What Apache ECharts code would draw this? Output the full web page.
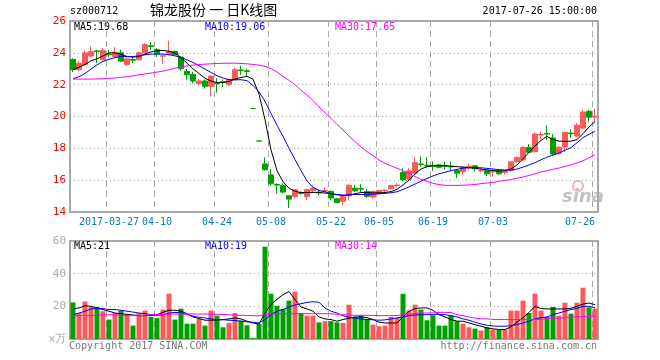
<!DOCTYPE html>
<html><head><meta charset="utf-8">
<script src="https://cdn.jsdelivr.net/npm/echarts@6/dist/echarts.min.js"></script>
<style>html,body{margin:0;padding:0;background:#fff}#c{width:660px;height:360px}</style>
</head><body><div id="c"></div>
<script>
const dates = ['2017-03-17','2017-03-20','2017-03-21','2017-03-22','2017-03-23','2017-03-24','2017-03-27','2017-03-28','2017-03-29','2017-03-30','2017-03-31',
'2017-04-05','2017-04-06','2017-04-07','2017-04-10','2017-04-11','2017-04-12','2017-04-13','2017-04-14','2017-04-17','2017-04-18','2017-04-19','2017-04-20','2017-04-21','2017-04-24','2017-04-25','2017-04-26','2017-04-27','2017-04-28',
'2017-05-02','2017-05-03','2017-05-04','2017-05-05','2017-05-08','2017-05-09','2017-05-10','2017-05-11','2017-05-12','2017-05-15','2017-05-16','2017-05-17','2017-05-18','2017-05-19','2017-05-22','2017-05-23','2017-05-24','2017-05-25','2017-05-26','2017-05-31',
'2017-06-01','2017-06-02','2017-06-05','2017-06-06','2017-06-07','2017-06-08','2017-06-09','2017-06-13','2017-06-14','2017-06-15','2017-06-16','2017-06-19','2017-06-20','2017-06-21','2017-06-22','2017-06-23','2017-06-26','2017-06-27','2017-06-28','2017-06-29','2017-06-30',
'2017-07-03','2017-07-04','2017-07-05','2017-07-06','2017-07-07','2017-07-10','2017-07-11','2017-07-12','2017-07-13','2017-07-14','2017-07-17','2017-07-18','2017-07-19','2017-07-20','2017-07-21','2017-07-24','2017-07-25','2017-07-26'];

const opens = [23.58,22.94,23.27,23.8,24.12,23.56,23.92,23.77,24.0,23.27,23.58,23.56,24.0,24.44,24.2,23.79,23.9,24.08,23.73,22.83,22.65,22.06,22.23,21.9,22.1,22.19,22.0,22.31,22.92,22.87,
20.5,18.46,17.02,16.33,15.73,15.67,15.02,14.98,15.21,14.98,15.33,15.25,15.31,15.29,14.83,14.67,15.02,15.5,15.48,15.29,14.94,15.15,15.33,15.46,15.65,16.48,16.06,16.44,17.02,16.94,
16.92,16.96,16.92,16.87,16.6,16.54,16.83,16.9,16.58,16.6,16.52,16.58,16.48,16.6,17.17,17.27,18.06,17.79,18.83,18.94,18.65,17.69,18.08,18.96,18.77,19.27,20.33,19.96];
const closes = [22.94,23.35,24.0,24.08,24.08,24.15,23.88,24.04,23.48,23.62,23.54,24.0,24.52,24.4,23.94,23.81,24.08,23.88,23.0,22.62,22.23,22.23,21.9,22.54,22.06,22.15,22.31,22.94,22.88,22.83,
20.5,18.46,16.65,15.77,15.69,15.25,14.81,15.4,15.17,15.4,15.5,15.21,15.35,14.88,14.6,14.98,15.67,15.33,15.44,14.98,15.29,15.35,15.37,15.67,15.69,16.02,16.58,17.1,16.98,16.9,
16.88,16.81,16.88,16.83,16.44,16.81,16.87,16.71,16.62,16.4,16.56,16.4,16.54,17.15,17.42,18.06,17.75,18.9,18.87,18.9,17.65,18.06,19.0,18.92,19.45,20.29,19.96,20.02];
const lows = [22.8,22.85,23.2,23.73,23.35,23.52,23.7,23.73,23.42,23.17,23.35,23.52,23.94,24.19,23.73,23.27,23.85,23.85,22.85,22.31,22.06,21.96,21.75,21.27,21.5,21.85,21.92,22.27,22.62,22.52,
20.5,18.46,16.6,15.65,15.15,15.15,14.25,14.85,15.08,14.73,15.23,15.04,15.23,14.73,14.56,14.42,14.73,15.25,15.25,14.88,14.83,15.1,15.19,15.4,15.56,15.92,15.98,16.44,16.85,16.79,
16.58,16.75,16.69,16.6,16.13,16.35,16.69,16.54,16.48,16.25,16.23,16.33,16.35,16.5,17.1,17.23,17.69,17.75,18.56,18.52,17.5,17.6,17.75,18.67,18.69,19.19,19.65,19.65];
const highs = [23.65,23.48,24.15,24.4,24.19,24.3,24.19,24.35,24.19,23.73,23.77,24.08,24.6,24.67,24.3,23.83,24.77,24.15,23.77,23.0,22.79,22.35,22.33,22.58,22.4,22.33,22.38,23.06,23.2,23.0,
20.5,18.46,17.44,16.69,15.81,15.81,15.02,15.44,15.29,15.4,15.67,15.4,15.54,15.35,14.88,15.08,15.75,15.71,15.75,15.44,15.35,15.4,15.44,15.71,15.81,16.75,16.75,17.44,17.48,17.44,
17.17,17.02,17.17,17.17,16.69,16.87,17.02,16.9,16.75,16.6,16.75,16.65,16.6,17.15,17.5,18.15,18.27,19.0,19.04,19.46,18.9,18.15,19.04,19.19,19.6,20.42,20.42,20.48];

const volumes = [22.4,15.9,23.0,19.6,19.6,17.0,11.9,15.9,17.4,14.9,8.2,15.9,17.4,13.5,12.9,18.0,27.7,11.9,18.6,9.4,9.4,12.3,8.2,17.4,14.3,7.2,9.8,15.9,11.3,8.4,
0.7,9.2,56.5,27.7,20.4,18.4,23.5,29.0,15.9,14.3,14.3,10.2,10.9,10.9,10.2,9.8,21.0,13.5,14.5,12.3,8.8,7.8,8.2,13.5,12.9,27.7,17.4,21.0,18.0,11.5,
14.5,8.2,8.2,14.5,10.9,9.4,7.2,6.4,5.2,7.2,5.8,5.8,5.8,17.4,17.4,23.5,15.9,27.7,17.4,13.5,19.6,14.3,22.2,15.5,22.2,31.4,19.4,18.6];

const ma5 = [22.94,23.1,23.27,23.5,23.62,23.8,24.0,24.0,23.9,23.77,23.73,23.77,23.92,24.06,24.13,24.15,24.1,23.98,23.7,23.35,23.0,22.7,22.4,22.23,22.13,22.13,22.2,22.35,22.45,22.52,
22.35,21.4,19.8,17.9,16.6,15.9,15.5,15.3,15.22,15.22,15.22,15.22,15.19,15.15,15.08,15.04,15.06,15.15,15.22,15.22,15.2,15.2,15.22,15.28,15.42,15.7,16.0,16.4,16.7,16.85,
16.9,16.92,16.9,16.88,16.85,16.82,16.78,16.75,16.7,16.65,16.6,16.58,16.6,16.7,16.95,17.35,17.75,18.15,18.5,18.75,18.55,18.45,18.44,18.45,18.55,18.92,19.34,19.68];
const ma10 = [22.38,22.5,22.7,22.98,23.25,23.46,23.6,23.7,23.77,23.77,23.77,23.81,23.88,23.92,23.92,23.92,23.88,23.81,23.71,23.56,23.4,23.19,22.98,22.77,22.56,22.42,22.31,22.31,22.31,22.25,
21.95,21.55,20.95,20.2,19.45,18.75,18.0,17.3,16.6,15.95,15.55,15.35,15.27,15.15,15.1,15.06,15.08,15.1,15.1,15.1,15.12,15.15,15.17,15.21,15.27,15.42,15.58,15.75,15.94,16.1,
16.27,16.4,16.5,16.6,16.68,16.75,16.78,16.79,16.78,16.74,16.7,16.66,16.64,16.64,16.7,16.82,16.95,17.1,17.28,17.45,17.57,17.7,17.88,18.05,18.35,18.67,18.88,19.06];
const ma30 = [22.35,22.35,22.35,22.35,22.36,22.37,22.4,22.42,22.46,22.5,22.56,22.62,22.67,22.73,22.79,22.85,22.94,23.04,23.12,23.18,23.23,23.26,23.29,23.31,23.33,23.34,23.35,23.35,23.33,23.31,
23.27,23.23,23.15,23.0,22.8,22.52,22.27,22.0,21.65,21.35,21.0,20.6,20.23,19.88,19.5,19.15,18.77,18.42,18.1,17.79,17.54,17.27,17.06,16.9,16.75,16.6,16.44,16.23,16.06,15.92,
15.8,15.72,15.68,15.67,15.67,15.68,15.7,15.73,15.78,15.82,15.86,15.93,15.98,16.04,16.12,16.2,16.3,16.4,16.52,16.6,16.68,16.76,16.86,16.96,17.08,17.22,17.4,17.6];

const volMa5 = [18.4,19.0,20.4,20.0,19.0,18.0,17.0,15.9,15.5,15.1,14.7,14.3,14.3,14.3,14.9,16.3,17.6,17.6,17.0,15.5,13.5,12.5,11.5,11.5,11.5,11.9,12.3,12.9,12.3,10.9,
9.8,9.2,15.9,21.0,24.4,27.1,29.1,24.1,19.6,18.4,17.0,13.5,12.3,11.9,10.9,11.9,12.7,13.5,13.5,13.1,11.9,10.3,9.8,9.8,9.8,13.5,17.0,18.6,19.0,19.0,
17.6,14.9,13.5,11.9,10.9,10.9,9.8,8.8,7.8,6.8,6.2,5.8,5.8,7.4,10.3,12.9,16.3,20.0,18.6,18.4,18.4,18.4,18.4,18.8,20.0,21.4,22.0,21.0];
const volMa10 = [14.9,15.9,17.0,18.4,18.6,18.6,18.0,18.0,17.6,17.0,16.5,15.9,15.5,14.9,14.5,14.7,15.9,16.3,16.0,15.2,13.9,13.3,12.9,12.3,11.9,11.8,11.5,11.3,10.9,10.5,
10.3,9.8,11.9,14.9,17.0,18.0,19.6,20.8,21.6,22.4,22.8,22.5,19.0,17.0,15.9,14.3,13.3,12.7,12.3,11.9,11.8,11.5,11.7,12.3,12.9,13.5,14.3,14.7,14.8,14.9,
15.1,15.1,14.9,14.3,13.5,12.3,11.5,10.3,9.2,8.4,8.0,7.8,7.8,8.2,8.8,9.8,10.9,12.3,13.1,13.5,14.9,15.9,17.0,18.0,18.8,20.0,20.0,19.0];
const volMa30 = [14.3,14.3,14.3,14.3,14.6,14.8,14.8,14.8,14.6,14.3,14.3,14.3,14.5,14.9,14.9,15.0,15.2,15.3,15.3,15.3,15.3,15.3,15.3,15.2,15.1,15.0,14.8,14.6,14.5,14.4,
14.3,14.2,15.0,15.3,15.4,15.5,15.5,15.5,15.5,15.5,15.5,15.5,15.5,15.4,15.2,14.9,14.6,14.5,14.5,14.5,14.4,14.3,14.3,14.3,14.4,14.9,15.2,15.5,15.9,15.9,
16.0,16.3,16.3,16.2,14.9,14.3,13.5,12.8,12.3,12.3,12.0,11.9,11.9,11.9,11.9,11.9,11.9,11.9,12.0,12.7,12.7,12.8,12.9,13.5,13.6,13.7,13.8,13.9];

const labelDates = ['2017-03-27','2017-04-10','2017-04-24','2017-05-08','2017-05-22','2017-06-05','2017-06-19','2017-07-03','2017-07-26'];
const priceLegend = ['MA5:19.68','MA10:19.06','MA30:17.65'];
const volLegend = ['MA5:21','MA10:19','MA30:14'];
const stockCode = 'sz000712';
const chartTitle = '锦龙股份 一 日K线图';
const stampText = '2017-07-26 15:00:00';

const UP = '#fa5a5a', DOWN = '#00a000';
const MONO = '"DejaVu Sans Mono", monospace';
const labelSet = new Set(labelDates);
const showAt = (i, v) => labelSet.has(v);

const candles = dates.map((d, i) => [opens[i], closes[i], lows[i], highs[i]]);
const volData = volumes.map((v, i) => {
  let up = closes[i] > opens[i] ? true : closes[i] < opens[i] ? false : (i > 0 ? closes[i] >= closes[i-1] : true);
  return { value: v, itemStyle: { color: up ? UP : DOWN } };
});

const chart = echarts.init(document.getElementById('c'), null, { renderer: 'canvas' });
const gridStyle = { show: true, borderColor: '#a8a8a8', borderWidth: 2, backgroundColor: 'transparent' };
const xCommon = {
  type: 'category', data: dates, boundaryGap: true,
  axisLine: { show: false }, axisTick: { show: false },
  splitLine: { show: true, interval: showAt, lineStyle: { color: '#a8a8a8', type: [6, 4], width: 1 } }
};
const legendText = (arr, y) => arr.map((t, k) => ({
  type: 'text', left: [74, 205, 335][k], top: y,
  style: { text: t, fill: ['#000', '#0000ff', '#ff00ff'][k], font: '10px ' + MONO }
}));

chart.setOption({
  animation: false,
  grid: [
    Object.assign({ left: 70, top: 21, width: 528, height: 191 }, gridStyle),
    Object.assign({ left: 70, top: 241, width: 528, height: 98 }, gridStyle)
  ],
  xAxis: [
    Object.assign({}, xCommon, { gridIndex: 0,
      axisLabel: { show: true, interval: showAt, margin: 5, color: '#0a78d2', fontFamily: MONO, fontSize: 10,
        alignMaxLabel: 'right',
        formatter: v => v === '2017-03-27' ? v : v.slice(5) } }),
    Object.assign({}, xCommon, { gridIndex: 1, axisLabel: { show: false } })
  ],
  yAxis: [
    { type: 'value', gridIndex: 0, min: 14, max: 26, interval: 2, scale: true,
      axisLine: { show: false }, axisTick: { show: false },
      axisLabel: { color: '#f00', fontFamily: MONO, fontSize: 11, margin: 4 },
      splitLine: { show: true, lineStyle: { color: '#a8a8a8', type: [1, 3] } } },
    { type: 'value', gridIndex: 1, min: 0, max: 60, interval: 20,
      axisLine: { show: false }, axisTick: { show: false },
      axisLabel: { color: '#aaa', fontFamily: MONO, fontSize: 11, margin: 4, formatter: v => v === 0 ? 'x万' : String(v) },
      splitLine: { show: true, lineStyle: { color: '#a8a8a8', type: [1, 3] } } }
  ],
  series: [
    { type: 'candlestick', xAxisIndex: 0, yAxisIndex: 0, data: candles, barWidth: 5,
      itemStyle: { color: UP, color0: DOWN, borderColor: UP, borderColor0: DOWN, borderWidth: 1 } },
    { type: 'line', xAxisIndex: 0, yAxisIndex: 0, data: ma5, symbol: 'none', lineStyle: { color: '#000', width: 1 } },
    { type: 'line', xAxisIndex: 0, yAxisIndex: 0, data: ma10, symbol: 'none', lineStyle: { color: '#0000ff', width: 1 } },
    { type: 'line', xAxisIndex: 0, yAxisIndex: 0, data: ma30, symbol: 'none', lineStyle: { color: '#ff00ff', width: 1 } },
    { type: 'bar', xAxisIndex: 1, yAxisIndex: 1, data: volData, barWidth: 5 },
    { type: 'line', xAxisIndex: 1, yAxisIndex: 1, data: volMa5, symbol: 'none', lineStyle: { color: '#000', width: 1 } },
    { type: 'line', xAxisIndex: 1, yAxisIndex: 1, data: volMa10, symbol: 'none', lineStyle: { color: '#0000ff', width: 1 } },
    { type: 'line', xAxisIndex: 1, yAxisIndex: 1, data: volMa30, symbol: 'none', lineStyle: { color: '#ff00ff', width: 1 } }
  ],
  graphic: [
    { type: 'text', left: 70, top: 6, style: { text: stockCode, fill: '#000', font: '10px ' + MONO } },
    { type: 'text', left: 150, top: 3, style: { text: chartTitle, fill: '#000', font: '14px "Noto Sans CJK SC"' } },
    { type: 'text', right: 63, top: 6, style: { text: stampText, fill: '#000', font: '10px ' + MONO } },
    ...legendText(priceLegend, 22),
    ...legendText(volLegend, 241),
    { type: 'text', left: 69, top: 341, style: { text: 'Copyright 2017 SINA.COM', fill: '#777', font: '10px ' + MONO } },
    { type: 'text', right: 63, top: 341, style: { text: 'http://finance.sina.com.cn', fill: '#777', font: '10px ' + MONO } },
    { type: 'circle', shape: { cx: 578, cy: 186, r: 5 }, style: { fill: 'none', stroke: '#f0b4b4', lineWidth: 2 }, z: -1 },
    { type: 'text', left: 562, top: 188, style: { text: 'sina', fill: '#c4c4c4', font: 'italic bold 18px "DejaVu Sans"' }, z: -1 }
  ]
});
</script></body></html>
